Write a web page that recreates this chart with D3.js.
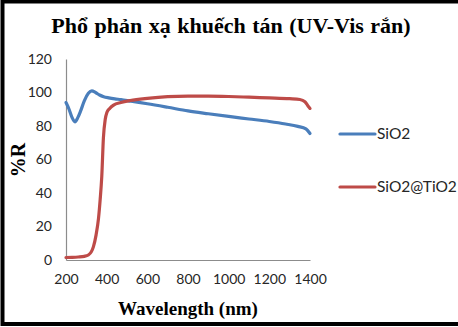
<!DOCTYPE html>
<html>
<head>
<meta charset="utf-8">
<script src="https://cdn.jsdelivr.net/npm/d3@7"></script>
<style>
  body { margin: 0; background: #fff; }
  svg { display: block; }
</style>
</head>
<body>
<svg id="chart" width="458" height="327"></svg>
<script>
const width = 458;
const height = 327;

// dữ liệu
const sio2Wl = [200, 215, 230, 244, 258, 272, 290, 310, 327, 345, 365, 385, 410, 440, 470, 520, 600, 700, 800, 900, 1000, 1100, 1200, 1280, 1340, 1380, 1400];
const sio2R  = [94, 90, 85, 82.5, 85, 89, 95, 99.5, 101, 100, 98.5, 97.5, 96.8, 96.2, 95.8, 94.8, 93.3, 91.2, 89, 87.3, 85.7, 84.2, 82.7, 81.2, 79.8, 78.3, 75.5];

const tio2Wl = [200, 230, 260, 290, 310, 325, 335, 348, 360, 368, 376, 384, 393, 401, 415, 434, 470, 516, 600, 700, 800, 900, 1000, 1100, 1200, 1300, 1350, 1375, 1390, 1400];
const tio2R  = [1.5, 1.6, 1.8, 2.2, 3, 5, 8, 15, 25, 36, 50, 73, 84, 88, 90.5, 92.5, 94, 95.2, 96.5, 97.5, 97.8, 97.8, 97.6, 97.2, 96.8, 96.3, 95.8, 94.5, 92, 90.5];

const xTicks = [200, 400, 600, 800, 1000, 1200, 1400];
const yTicks = [0, 20, 40, 60, 80, 100, 120];

const seriesNames = ["SiO2", "SiO2@TiO2"];
const seriesColors = ["#4a7ebb", "#be4b48"];

const svg = d3.select("#chart");

// khung đen bao quanh
svg.append("rect").attr("x", 2.5).attr("y", 1.5).attr("width", 470).attr("height", 322.5)
  .attr("fill", "none").attr("stroke", "#000").attr("stroke-width", 4);

const x = d3.scaleLinear().domain([200, 1400]).range([66, 310]);
const y = d3.scaleLinear().domain([0, 120]).range([260, 59]);

// tiêu đề
svg.append("text")
  .attr("x", 231).attr("y", 33)
  .attr("text-anchor", "middle")
  .style("font-family", "Liberation Serif")
  .style("font-weight", "bold")
  .style("font-size", "22px")
  .style("word-spacing", "1px")
  .text("Phổ phản xạ khuếch tán (UV-Vis rắn)");

// trục
const gx = svg.append("g").attr("transform", `translate(0,${y(0)})`)
  .call(d3.axisBottom(x).tickValues(xTicks).tickSize(0).tickPadding(14).tickFormat(d3.format("d")));
const gy = svg.append("g").attr("transform", `translate(${x(200)},0)`)
  .call(d3.axisLeft(y).tickValues(yTicks).tickSize(0).tickPadding(14));

[gx, gy].forEach(g => {
  g.select(".domain").attr("stroke", "#8c8c8c").attr("stroke-width", 1.2);
  g.selectAll("text")
    .style("font-family", "Lato")
    .style("font-size", "14px")
    .attr("fill", "#262626");
});

svg.append("text")
  .attr("x", 188).attr("y", 315)
  .attr("text-anchor", "middle")
  .style("font-family", "Liberation Serif")
  .style("font-weight", "bold")
  .style("font-size", "19px")
  .text("Wavelength (nm)");

svg.append("text")
  .attr("transform", "translate(25,160) rotate(-90)")
  .attr("text-anchor", "middle")
  .style("font-family", "Liberation Serif")
  .style("font-weight", "bold")
  .style("font-size", "20px")
  .text("%R");

// đường
const line = d3.line()
  .x(d => x(d[0]))
  .y(d => y(d[1]))
  .curve(d3.curveMonotoneX);

const series = [
  d3.zip(sio2Wl, sio2R),
  d3.zip(tio2Wl, tio2R)
];

svg.selectAll("path.serie")
  .data(series)
  .join("path")
  .attr("class", "serie")
  .attr("d", line)
  .attr("fill", "none")
  .attr("stroke", (d, i) => seriesColors[i])
  .attr("stroke-width", 3.2)
  .attr("stroke-linecap", "round");

// chú thích
const legend = svg.selectAll("g.leg")
  .data(seriesNames)
  .join("g")
  .attr("class", "leg")
  .attr("transform", (d, i) => `translate(340,${134 + i * 53})`);

legend.append("line")
  .attr("x1", 0).attr("x2", 35)
  .attr("stroke", (d, i) => seriesColors[i])
  .attr("stroke-width", 3.2)
  .attr("stroke-linecap", "round");

legend.append("text")
  .attr("x", 37).attr("dy", "0.35em")
  .style("font-family", "Lato")
  .style("font-size", "15.5px")
  .attr("fill", "#262626")
  .text(d => d);
</script>
</body>
</html>
